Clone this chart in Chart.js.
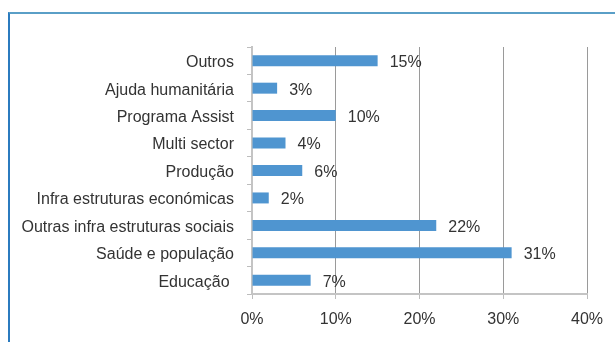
<!DOCTYPE html>
<html>
<head>
<meta charset="utf-8">
<script src="https://cdn.jsdelivr.net/npm/chart.js@4/dist/chart.umd.min.js"></script>
<style>
  html, body { margin: 0; padding: 0; background: #fff; }
  .frame {
    position: absolute; left: 8px; top: 12px; width: 607px; height: 330px;
    border-top: 2px solid #5a9fc7; border-left: 2px solid #2b7bbf;
  }
  #chart { position: absolute; left: 0; top: 0; }
</style>
</head>
<body>
<div class="frame"></div>
<canvas id="chart" width="615" height="342"></canvas>
<script>
const categories = [
  'Outros',
  'Ajuda humanitária',
  'Programa Assist',
  'Multi sector',
  'Produção',
  'Infra estruturas económicas',
  'Outras infra estruturas sociais',
  'Saúde e população',
  'Educação '
];
const shares = [15, 3, 10, 4, 6, 2, 22, 31, 7];
const xTicks = [0, 10, 20, 30, 40];

const textColor = '#333333';
const fontFamily = "'Liberation Sans', Arial, sans-serif";
const fontSize = 16;

// percentage label just past the end of each bar
const valueLabels = {
  id: 'valueLabels',
  afterDatasetsDraw(chart) {
    const ctx = chart.ctx;
    const meta = chart.getDatasetMeta(0);
    ctx.save();
    ctx.font = fontSize + 'px ' + fontFamily;
    ctx.fillStyle = textColor;
    ctx.textAlign = 'left';
    ctx.textBaseline = 'middle';
    meta.data.forEach((bar, i) => {
      ctx.fillText(shares[i] + '%', bar.x + 12, bar.y + 2);
    });
    ctx.restore();
  }
};

const ctx = document.getElementById('chart').getContext('2d');
const chart = new Chart(ctx, {
  type: 'bar',
  data: {
    labels: categories,
    datasets: [{
      data: shares,
      backgroundColor: '#4f95d0',
      borderWidth: 0,
      barPercentage: 0.4,
      categoryPercentage: 1
    }]
  },
  options: {
    indexAxis: 'y',
    responsive: false,
    animation: false,
    layout: {
      padding: { left: 0, top: 47, right: 28, bottom: 0 }
    },
    scales: {
      x: {
        min: 0,
        max: 40,
        afterBuildTicks(scale) {
          scale.ticks = xTicks.map(v => ({ value: v }));
        },
        afterFit(scale) { scale.height = 48; },
        grid: {
          color: '#9a9a9a',
          tickColor: '#bdbdbd',
          tickLength: 5,
          lineWidth: 1
        },
        border: { color: '#c4c4c4', width: 2 },
        ticks: {
          padding: 11,
          color: textColor,
          font: { family: fontFamily, size: fontSize },
          callback: v => v + '%'
        }
      },
      y: {
        afterFit(scale) { scale.width = 252; },
        grid: {
          drawOnChartArea: false,
          color: '#bdbdbd',
          tickLength: 5
        },
        border: { color: '#c4c4c4', width: 2 },
        ticks: {
          padding: 13,
          labelOffset: 2,
          color: textColor,
          font: { family: fontFamily, size: fontSize }
        }
      }
    },
    plugins: {
      legend: { display: false },
      tooltip: { enabled: false }
    }
  },
  plugins: [valueLabels]
});
</script>
</body>
</html>
